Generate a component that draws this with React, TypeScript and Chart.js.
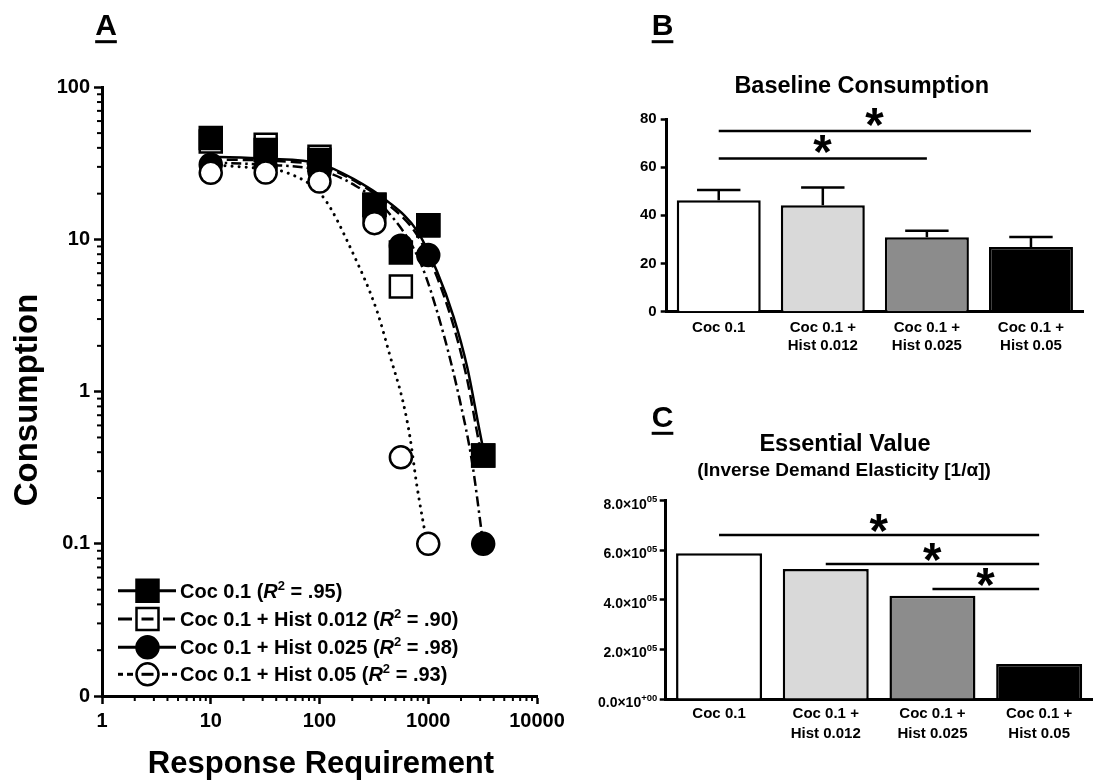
import { useEffect, useRef } from "react";
import { Chart, registerables } from "chart.js";

Chart.register(...registerables);

const FONT = '"Liberation Sans", Arial, Helvetica, sans-serif';
const INK = "#000000";

/* ---------------- Panel A: demand curves (log-log) ---------------- */
const RESPONSE_REQ = [10, 32, 100, 320, 560, 1000, 3200];
const COC_01 = [46.4, 38.7, 33.3, 16.9, 8.2, 12.4, 0.38];
const COC_HIST_0012 = [44, 42, 35, 16.9, 4.9, 12.4, 0.38];
const COC_HIST_0025 = [31, 30, 28, 14, 9.1, 7.9, 0.1];
const COC_HIST_005 = [27.4, 27.5, 24, 12.8, 0.37, 0.1, null];

// fitted demand curves
const FIT_COC_01_X = [10, 32, 100, 205, 415, 790, 1200, 1710, 2280, 2900, 3200];
const FIT_COC_01_Y = [35, 34, 31.5, 25, 18, 11.4, 6.2, 3.1, 1.45, 0.6, 0.42];
const FIT_HIST_0012_X = [10, 32, 100, 205, 415, 790, 1200, 1710, 2280, 2900, 3200];
const FIT_HIST_0012_Y = [33.5, 33, 30.5, 24.5, 17.3, 10.7, 5.7, 2.7, 1.2, 0.48, 0.34];
const FIT_HIST_0025_X = [10, 32, 100, 205, 415, 850, 1380, 1970, 2520, 3200];
const FIT_HIST_0025_Y = [32, 31, 28.5, 23, 15.5, 7.0, 2.4, 0.85, 0.35, 0.1];
const FIT_HIST_005_X = [10, 32, 50, 108, 205, 337, 447, 590, 680, 780, 1000];
const FIT_HIST_005_Y = [31, 29, 27.5, 19, 8.0, 3.4, 1.7, 0.84, 0.5, 0.25, 0.09];

const A_X_MAJOR = [1, 10, 100, 1000, 10000];
const A_X_LABELS = ["1", "10", "100", "1000", "10000"];
const A_Y_MAJOR = [0.01, 0.1, 1, 10, 100];
const A_Y_LABELS = ["0", "0.1", "1", "10", "100"];

const LEGEND_NAMES = ["Coc 0.1", "Coc 0.1 + Hist 0.012", "Coc 0.1 + Hist 0.025", "Coc 0.1 + Hist 0.05"];
const LEGEND_R2 = [".95", ".90", ".98", ".93"];

/* ---------------- Panels B & C: bar charts ---------------- */
const GROUPS = [["Coc 0.1"], ["Coc 0.1 +", "Hist 0.012"], ["Coc 0.1 +", "Hist 0.025"], ["Coc 0.1 +", "Hist 0.05"]];
const BAR_COLORS = ["#ffffff", "#d9d9d9", "#8c8c8c", "#000000"];

const BASELINE_MEAN = [46.3, 44.2, 30.9, 26.9];
const BASELINE_SEM = [4.2, 7.4, 2.7, 4.1];
const B_Y_TICKS = [0, 20, 40, 60, 80];
const B_SIG_FROM = [0, 0];
const B_SIG_TO = [3, 2];
const B_SIG_Y = [75, 63.6];

const ESSENTIAL_VALUE = [588000, 524000, 417000, 141000];
const C_Y_TICKS = [0, 200000, 400000, 600000, 800000];
const C_Y_MANTISSA = ["0.0×10", "2.0×10", "4.0×10", "6.0×10", "8.0×10"];
const C_Y_EXP = ["+00", "05", "05", "05", "05"];
const C_SIG_FROM = [0, 1, 2];
const C_SIG_TO = [3, 3, 3];
const C_SIG_Y = [662000, 545000, 444000];

/* ---------------- helpers ---------------- */
const near = (a: number, b: number) => Math.abs(Math.log10(a) - Math.log10(b)) < 1e-6;
const minorTicks = (majors: number[]) => {
  const out: number[] = [];
  for (let i = 0; i < majors.length - 1; i++)
    for (let m = 2; m <= 9; m++) out.push(Number((majors[i] * m).toPrecision(4)));
  return out;
};
const A_X_MINOR = minorTicks(A_X_MAJOR);
const A_Y_MINOR = minorTicks(A_Y_MAJOR);
const isMajor = (v: number, majors: number[]) => majors.some((m) => near(m, v));
const labelFor = (v: number, majors: number[], labels: string[]) => {
  const i = majors.findIndex((m) => near(m, v));
  return i >= 0 ? labels[i] : "";
};
const pts = (xs: number[], ys: (number | null)[]) => {
  const out: any[] = [];
  xs.forEach((x, i) => {
    const y = ys[i];
    if (y !== null && y !== undefined) out.push({ x, y });
  });
  return out;
};

function drawPanelLetter(ctx: CanvasRenderingContext2D, letter: string, cx: number, baseline: number, uy: number) {
  ctx.save();
  ctx.font = `bold 30px ${FONT}`;
  ctx.fillStyle = INK;
  ctx.textAlign = "center";
  ctx.textBaseline = "alphabetic";
  ctx.fillText(letter, cx, baseline);
  const w = ctx.measureText(letter).width;
  ctx.fillRect(cx - w / 2, uy - 1.5, w, 3);
  ctx.restore();
}

function drawCenteredText(ctx: CanvasRenderingContext2D, text: string, cx: number, baseline: number, size: number) {
  ctx.save();
  ctx.font = `bold ${size}px ${FONT}`;
  ctx.fillStyle = INK;
  ctx.textAlign = "center";
  ctx.textBaseline = "alphabetic";
  ctx.fillText(text, cx, baseline);
  ctx.restore();
}

function drawStar(ctx: CanvasRenderingContext2D, cx: number, cy: number) {
  ctx.save();
  ctx.font = `bold 100px ${FONT}`;
  const m = ctx.measureText("*");
  const w = m.actualBoundingBoxLeft + m.actualBoundingBoxRight || 35;
  const size = (100 * 18.5) / w;
  ctx.font = `bold ${size}px ${FONT}`;
  const m2 = ctx.measureText("*");
  ctx.fillStyle = INK;
  ctx.textAlign = "left";
  ctx.textBaseline = "alphabetic";
  const gl = m2.actualBoundingBoxLeft;
  const gr = m2.actualBoundingBoxRight;
  ctx.fillText("*", cx - (gr - gl) / 2, cy + (m2.actualBoundingBoxAscent - m2.actualBoundingBoxDescent) / 2);
  ctx.restore();
}

function drawSig(chart: any, from: number[], to: number[], ys: number[], lift: number) {
  const ctx = chart.ctx;
  const meta = chart.getDatasetMeta(0);
  const yScale = chart.scales.y;
  ctx.save();
  ctx.strokeStyle = INK;
  ctx.lineWidth = 2.5;
  from.forEach((f, i) => {
    const x1 = meta.data[f].x;
    const x2 = meta.data[to[i]].x;
    const y = yScale.getPixelForValue(ys[i]);
    ctx.beginPath();
    ctx.moveTo(x1, y);
    ctx.lineTo(x2, y);
    ctx.stroke();
    drawStar(ctx, (x1 + x2) / 2, y - lift);
  });
  ctx.restore();
}

/* ---------------- Panel A ---------------- */
const SQUARE_R = 11 / Math.SQRT1_2;
const CIRCLE_R = 11;

function drawMarker(ctx: CanvasRenderingContext2D, kind: string, x: number, y: number) {
  ctx.save();
  ctx.lineWidth = 2.5;
  ctx.strokeStyle = INK;
  ctx.beginPath();
  if (kind.includes("square")) ctx.rect(x - 11, y - 11, 22, 22);
  else ctx.arc(x, y, CIRCLE_R, 0, Math.PI * 2);
  ctx.fillStyle = kind.startsWith("filled") ? INK : "#ffffff";
  ctx.fill();
  ctx.stroke();
  if (kind.startsWith("open")) {
    ctx.lineWidth = 3;
    ctx.beginPath();
    ctx.moveTo(x - 6, y);
    ctx.lineTo(x + 6, y);
    ctx.stroke();
  }
  ctx.restore();
}

function makePanelA(canvas: HTMLCanvasElement) {
  const curve = (xs: number[], ys: number[], dash: number[], cap: string, width: number, order: number) => ({
    data: pts(xs, ys),
    showLine: true,
    pointRadius: 0,
    pointHoverRadius: 0,
    pointHitRadius: 0,
    borderColor: INK,
    backgroundColor: INK,
    borderWidth: width,
    borderDash: dash,
    borderCapStyle: cap,
    cubicInterpolationMode: "monotone",
    fill: false,
    order,
  });
  const marker = (ys: (number | null)[], style: string, fill: string, r: number, order: number) => ({
    data: pts(RESPONSE_REQ, ys),
    showLine: false,
    pointStyle: style,
    pointRadius: r,
    pointHoverRadius: r,
    pointBackgroundColor: fill,
    pointBorderColor: INK,
    pointBorderWidth: 2.5,
    backgroundColor: fill,
    borderColor: INK,
    order,
  });

  const plugin = {
    id: "panelA",
    afterDraw(chart: any) {
      const ctx: CanvasRenderingContext2D = chart.ctx;
      const area = chart.chartArea;
      const xs = chart.scales.x;
      const ys = chart.scales.y;
      ctx.save();
      ctx.strokeStyle = INK;
      ctx.lineWidth = 2;
      A_Y_MINOR.forEach((v) => {
        const py = ys.getPixelForValue(v);
        ctx.beginPath();
        ctx.moveTo(area.left - 5, py);
        ctx.lineTo(area.left, py);
        ctx.stroke();
      });
      A_X_MINOR.forEach((v) => {
        const px = xs.getPixelForValue(v);
        ctx.beginPath();
        ctx.moveTo(px, area.bottom);
        ctx.lineTo(px, area.bottom + 5);
        ctx.stroke();
      });
      ctx.restore();

      // legend
      const rowY = [590.7, 619, 647.3, 674.3];
      const kinds = ["filled square", "open square", "filled circle", "open circle"];
      LEGEND_NAMES.forEach((name, i) => {
        const y = rowY[i];
        ctx.save();
        ctx.strokeStyle = INK;
        ctx.lineWidth = 3;
        const segs =
          i === 1
            ? [[118, 132], [163, 175]]
            : i === 3
            ? [[118, 123], [127, 133], [162, 168], [172, 177]]
            : [[118, 176]];
        segs.forEach(([a, b]) => {
          ctx.beginPath();
          ctx.moveTo(a, y);
          ctx.lineTo(b, y);
          ctx.stroke();
        });
        ctx.restore();
        drawMarker(ctx, kinds[i], 147.5, y);
        // text with italic R and superscript 2
        ctx.save();
        ctx.fillStyle = INK;
        ctx.textAlign = "left";
        ctx.textBaseline = "alphabetic";
        const base = y + 7;
        let cx = 180;
        const seg = (t: string, f: string, dy = 0) => {
          ctx.font = f;
          ctx.fillText(t, cx, base + dy);
          cx += ctx.measureText(t).width;
        };
        seg(`${name} (`, `bold 20px ${FONT}`);
        seg("R", `italic bold 20px ${FONT}`);
        seg("2", `bold 13px ${FONT}`, -8);
        seg(` = ${LEGEND_R2[i]})`, `bold 20px ${FONT}`);
        ctx.restore();
      });

      drawPanelLetter(ctx, "A", 106, 35, 41.7);
      drawCenteredText(ctx, "Response Requirement", 321, 773, 31);
      ctx.save();
      ctx.translate(36.7, 400);
      ctx.rotate(-Math.PI / 2);
      drawCenteredText(ctx, "Consumption", 0, 0, 33);
      ctx.restore();
    },
  };

  return new Chart(canvas, {
    type: "scatter",
    data: {
      datasets: [
        marker(COC_HIST_005, "circle", "#ffffff", CIRCLE_R, 1),
        marker(COC_HIST_0025, "circle", INK, CIRCLE_R, 2),
        marker(COC_01, "rect", INK, SQUARE_R, 3),
        marker(COC_HIST_0012, "rect", "#ffffff", SQUARE_R, 4),
        curve(FIT_COC_01_X, FIT_COC_01_Y, [], "butt", 2.5, 5),
        curve(FIT_HIST_0012_X, FIT_HIST_0012_Y, [11, 5], "butt", 2.5, 6),
        curve(FIT_HIST_0025_X, FIT_HIST_0025_Y, [10, 4, 2.5, 4], "butt", 2.5, 7),
        curve(FIT_HIST_005_X, FIT_HIST_005_Y, [0.1, 7], "round", 3, 8),
      ] as any,
    },
    options: {
      responsive: false,
      maintainAspectRatio: false,
      animation: false,
      events: [],
      layout: { padding: { left: 0, right: 43, top: 87.3, bottom: 0 } },
      plugins: { legend: { display: false }, tooltip: { enabled: false } },
      scales: {
        x: {
          type: "logarithmic",
          min: 1,
          max: 10000,
          afterBuildTicks: (s: any) => {
            s.ticks = [...A_X_MAJOR, ...A_X_MINOR].sort((a, b) => a - b).map((v) => ({ value: v }));
          },
          afterFit: (s: any) => {
            s.height = 781 - 696;
          },
          ticks: {
            autoSkip: false,
            maxRotation: 0,
            padding: 5,
            color: INK,
            font: { family: FONT, size: 20, weight: "bold" },
            callback: (v: any) => labelFor(Number(v), A_X_MAJOR, A_X_LABELS),
          },
          grid: {
            drawOnChartArea: false,
            drawTicks: true,
            tickLength: 8,
            tickWidth: 2.5,
            tickColor: (c: any) => (c.tick && isMajor(c.tick.value, A_X_MAJOR) ? INK : "rgba(0,0,0,0)"),
          },
          border: { display: true, color: INK, width: 3 },
        },
        y: {
          type: "logarithmic",
          min: 0.01,
          max: 100,
          afterBuildTicks: (s: any) => {
            s.ticks = [...A_Y_MAJOR, ...A_Y_MINOR].sort((a, b) => a - b).map((v) => ({ value: v }));
          },
          afterFit: (s: any) => {
            s.width = 102;
          },
          ticks: {
            autoSkip: false,
            padding: 4,
            color: INK,
            font: { family: FONT, size: 20, weight: "bold" },
            callback: (v: any) => labelFor(Number(v), A_Y_MAJOR, A_Y_LABELS),
          },
          grid: {
            drawOnChartArea: false,
            drawTicks: true,
            tickLength: 8,
            tickWidth: 2.5,
            tickColor: (c: any) => (c.tick && isMajor(c.tick.value, A_Y_MAJOR) ? INK : "rgba(0,0,0,0)"),
          },
          border: { display: true, color: INK, width: 3 },
        },
      },
    } as any,
    plugins: [plugin],
  });
}

/* ---------------- Panel B ---------------- */
function makePanelB(canvas: HTMLCanvasElement) {
  const plugin = {
    id: "panelB",
    afterDatasetsDraw(chart: any) {
      const ctx: CanvasRenderingContext2D = chart.ctx;
      const meta = chart.getDatasetMeta(0);
      const ys = chart.scales.y;
      ctx.save();
      ctx.strokeStyle = INK;
      ctx.lineWidth = 2.5;
      BASELINE_MEAN.forEach((m, i) => {
        const x = meta.data[i].x;
        const y0 = ys.getPixelForValue(m);
        const y1 = ys.getPixelForValue(m + BASELINE_SEM[i]);
        ctx.beginPath();
        ctx.moveTo(x, y0);
        ctx.lineTo(x, y1);
        ctx.moveTo(x - 21.7, y1);
        ctx.lineTo(x + 21.7, y1);
        ctx.stroke();
      });
      ctx.restore();
    },
    afterDraw(chart: any) {
      const ctx: CanvasRenderingContext2D = chart.ctx;
      drawSig(chart, B_SIG_FROM, B_SIG_TO, B_SIG_Y, 14.5);
      drawPanelLetter(ctx, "B", 77.5, 35, 41.7);
      drawCenteredText(ctx, "Baseline Consumption", 276.7, 92.7, 23.5);
    },
  };
  return new Chart(canvas, {
    type: "bar",
    data: {
      labels: GROUPS,
      datasets: [
        {
          data: BASELINE_MEAN,
          backgroundColor: BAR_COLORS,
          borderColor: INK,
          borderWidth: 2.5,
          barPercentage: 0.807,
          categoryPercentage: 1,
        },
      ],
    } as any,
    options: {
      responsive: false,
      maintainAspectRatio: false,
      animation: false,
      events: [],
      layout: { padding: { left: 0, right: 10, top: 119, bottom: 0 } },
      plugins: { legend: { display: false }, tooltip: { enabled: false } },
      scales: {
        x: {
          afterFit: (s: any) => {
            s.height = 390 - 311.7;
          },
          grid: { display: false, drawTicks: false },
          border: { display: true, color: INK, width: 3 },
          ticks: {
            autoSkip: false,
            maxRotation: 0,
            padding: 6.6,
            color: INK,
            font: { family: FONT, size: 15, weight: "bold", lineHeight: 18.4 / 15 },
          },
        },
        y: {
          min: 0,
          max: 80,
          afterBuildTicks: (s: any) => {
            s.ticks = B_Y_TICKS.map((v) => ({ value: v }));
          },
          afterFit: (s: any) => {
            s.width = 81.7;
          },
          grid: { drawOnChartArea: false, drawTicks: true, tickLength: 6, tickWidth: 2.5, tickColor: INK },
          border: { display: true, color: INK, width: 3 },
          ticks: { padding: 4, color: INK, font: { family: FONT, size: 15, weight: "bold" } },
        },
      },
    } as any,
    plugins: [plugin],
  });
}

/* ---------------- Panel C ---------------- */
function makePanelC(canvas: HTMLCanvasElement) {
  const plugin = {
    id: "panelC",
    afterDraw(chart: any) {
      const ctx: CanvasRenderingContext2D = chart.ctx;
      const ys = chart.scales.y;
      drawSig(chart, C_SIG_FROM, C_SIG_TO, C_SIG_Y, 12);
      drawPanelLetter(ctx, "C", 77.5, 36.7, 43.3);
      drawCenteredText(ctx, "Essential Value", 260, 61, 23.5);
      drawCenteredText(ctx, "(Inverse Demand Elasticity [1/α])", 259, 86, 19);
      ctx.save();
      ctx.fillStyle = INK;
      ctx.textAlign = "right";
      ctx.textBaseline = "alphabetic";
      const right = 72.3;
      C_Y_TICKS.forEach((v, i) => {
        const py = ys.getPixelForValue(v);
        ctx.font = `bold 9.5px ${FONT}`;
        const ew = ctx.measureText(C_Y_EXP[i]).width;
        ctx.fillText(C_Y_EXP[i], right, py + 1.5);
        ctx.font = `bold 14px ${FONT}`;
        ctx.fillText(C_Y_MANTISSA[i], right - ew, py + 8);
      });
      ctx.restore();
    },
  };
  return new Chart(canvas, {
    type: "bar",
    data: {
      labels: GROUPS,
      datasets: [
        {
          data: ESSENTIAL_VALUE,
          backgroundColor: BAR_COLORS,
          borderColor: INK,
          borderWidth: 2.5,
          barPercentage: 0.806,
          categoryPercentage: 1,
        },
      ],
    } as any,
    options: {
      responsive: false,
      maintainAspectRatio: false,
      animation: false,
      events: [],
      layout: { padding: { left: 0, right: 0.5, top: 110.7, bottom: 0 } },
      plugins: { legend: { display: false }, tooltip: { enabled: false } },
      scales: {
        x: {
          afterFit: (s: any) => {
            s.height = 391 - 309;
          },
          grid: { display: false, drawTicks: false },
          border: { display: true, color: INK, width: 3 },
          ticks: {
            autoSkip: false,
            maxRotation: 0,
            padding: 5.2,
            color: INK,
            font: { family: FONT, size: 15, weight: "bold", lineHeight: 20 / 15 },
          },
        },
        y: {
          min: 0,
          max: 800000,
          afterBuildTicks: (s: any) => {
            s.ticks = C_Y_TICKS.map((v) => ({ value: v }));
          },
          afterFit: (s: any) => {
            s.width = 80.7;
          },
          grid: { drawOnChartArea: false, drawTicks: true, tickLength: 6, tickWidth: 2.5, tickColor: INK },
          border: { display: true, color: INK, width: 3 },
          ticks: { padding: 3, color: INK, font: { family: FONT, size: 14, weight: "bold" }, callback: () => "" },
        },
      },
    } as any,
    plugins: [plugin],
  });
}

export default function App() {
  const aRef = useRef<HTMLCanvasElement>(null);
  const bRef = useRef<HTMLCanvasElement>(null);
  const cRef = useRef<HTMLCanvasElement>(null);

  useEffect(() => {
    const charts: Chart[] = [];
    if (aRef.current) charts.push(makePanelA(aRef.current));
    if (bRef.current) charts.push(makePanelB(bRef.current));
    if (cRef.current) charts.push(makePanelC(cRef.current));
    return () => charts.forEach((c) => c.destroy());
  }, []);

  return (
    <div
      style={{
        position: "absolute",
        left: 0,
        top: 0,
        width: 1093,
        height: 781,
        background: "#ffffff",
        overflow: "hidden",
      }}
    >
      <canvas ref={aRef} width={580} height={781} style={{ position: "absolute", left: 0, top: 0 }} />
      <canvas ref={bRef} width={508} height={390} style={{ position: "absolute", left: 585, top: 0 }} />
      <canvas ref={cRef} width={508} height={391} style={{ position: "absolute", left: 585, top: 390 }} />
    </div>
  );
}
